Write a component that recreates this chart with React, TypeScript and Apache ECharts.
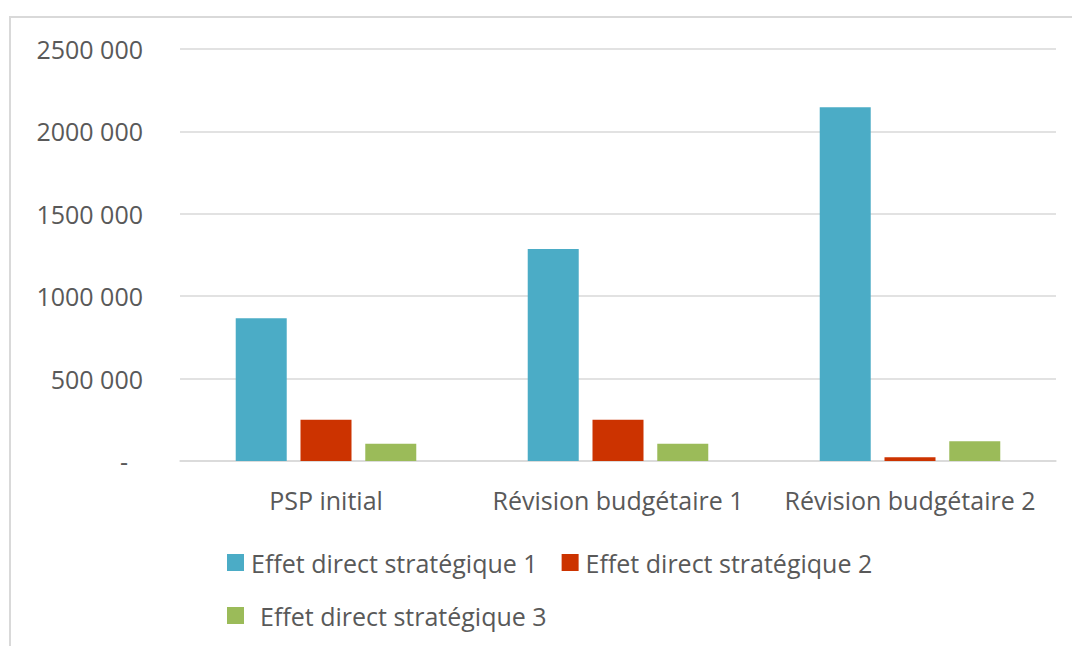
import React, { useEffect, useRef } from "react";
import * as echarts from "echarts";

const categories = ["PSP initial", "Révision budgétaire 1", "Révision budgétaire 2"];
const seriesNames = [
  "Effet direct stratégique 1",
  "Effet direct stratégique 2",
  "Effet direct stratégique 3",
];
const effet1 = [866000, 1286000, 2146000];
const effet2 = [250000, 250000, 23000];
const effet3 = [104000, 104000, 120000];
const yTickLabels = ["-", "500 000", "1000 000", "1500 000", "2000 000", "2500 000"];
const colors = ["#4BACC6", "#CC3300", "#9BBB59"];

const TEXT = "#595959";
const FONT = "Open Sans";

export default function App() {
  const ref = useRef<HTMLDivElement>(null);
  useEffect(() => {
    if (!ref.current) return;
    const chart = echarts.init(ref.current, null, { renderer: "svg" });
    const data = [effet1, effet2, effet3];
    chart.setOption({
      animation: false,
      backgroundColor: "#ffffff",
      textStyle: { fontFamily: FONT, color: TEXT },
      graphic: [
        {
          type: "rect",
          shape: { x: 10, y: 17, width: 1300, height: 900 },
          style: { fill: "none", stroke: "#D9D9D9", lineWidth: 2 },
          silent: true,
        },
      ],
      grid: { left: 180, right: 16, top: 49, bottom: 185, containLabel: false },
      xAxis: {
        type: "category",
        data: categories,
        axisTick: { show: false },
        axisLine: { lineStyle: { color: "#D9D9D9", width: 1.5 } },
        axisLabel: { color: TEXT, fontFamily: FONT, fontSize: 25, margin: 26, interval: 0 },
      },
      yAxis: {
        type: "value",
        min: 0,
        max: 2500000,
        interval: 500000,
        axisLine: { show: false },
        axisTick: { show: false },
        splitLine: { lineStyle: { color: "#D9D9D9", width: 1.5 } },
        axisLabel: {
          color: TEXT,
          fontFamily: FONT,
          fontSize: 25,
          margin: 37,
          formatter: (v: number) => {
            const idx = Math.round(v / 500000);
            if (idx === 0) return "{dash|" + yTickLabels[0] + "}";
            return yTickLabels[idx];
          },
          rich: {
            dash: { color: TEXT, fontFamily: FONT, fontSize: 25, padding: [0, 15, 0, 0] },
          },
        },
      },
      legend: [
        {
          data: [seriesNames[0], seriesNames[1]],
          left: 222,
          top: 545,
          orient: "horizontal",
          itemWidth: 17,
          itemHeight: 17,
          itemGap: 24,
          icon: "rect",
          textStyle: { color: TEXT, fontFamily: FONT, fontSize: 25, padding: [0, 0, 0, 2] },
        },
        {
          data: [seriesNames[2]],
          left: 222,
          top: 598,
          orient: "horizontal",
          itemWidth: 17,
          itemHeight: 17,
          icon: "rect",
          textStyle: { color: TEXT, fontFamily: FONT, fontSize: 25, padding: [0, 0, 0, 11] },
        },
      ],
      series: seriesNames.map((name, i) => ({
        name,
        type: "bar",
        data: data[i],
        barWidth: 51,
        barGap: "27%",
        itemStyle: { color: colors[i] },
      })),
    });
    return () => chart.dispose();
  }, []);
  return (
    <div
      ref={ref}
      style={{ position: "fixed", left: 0, top: 0, width: 1072, height: 646 }}
    />
  );
}
